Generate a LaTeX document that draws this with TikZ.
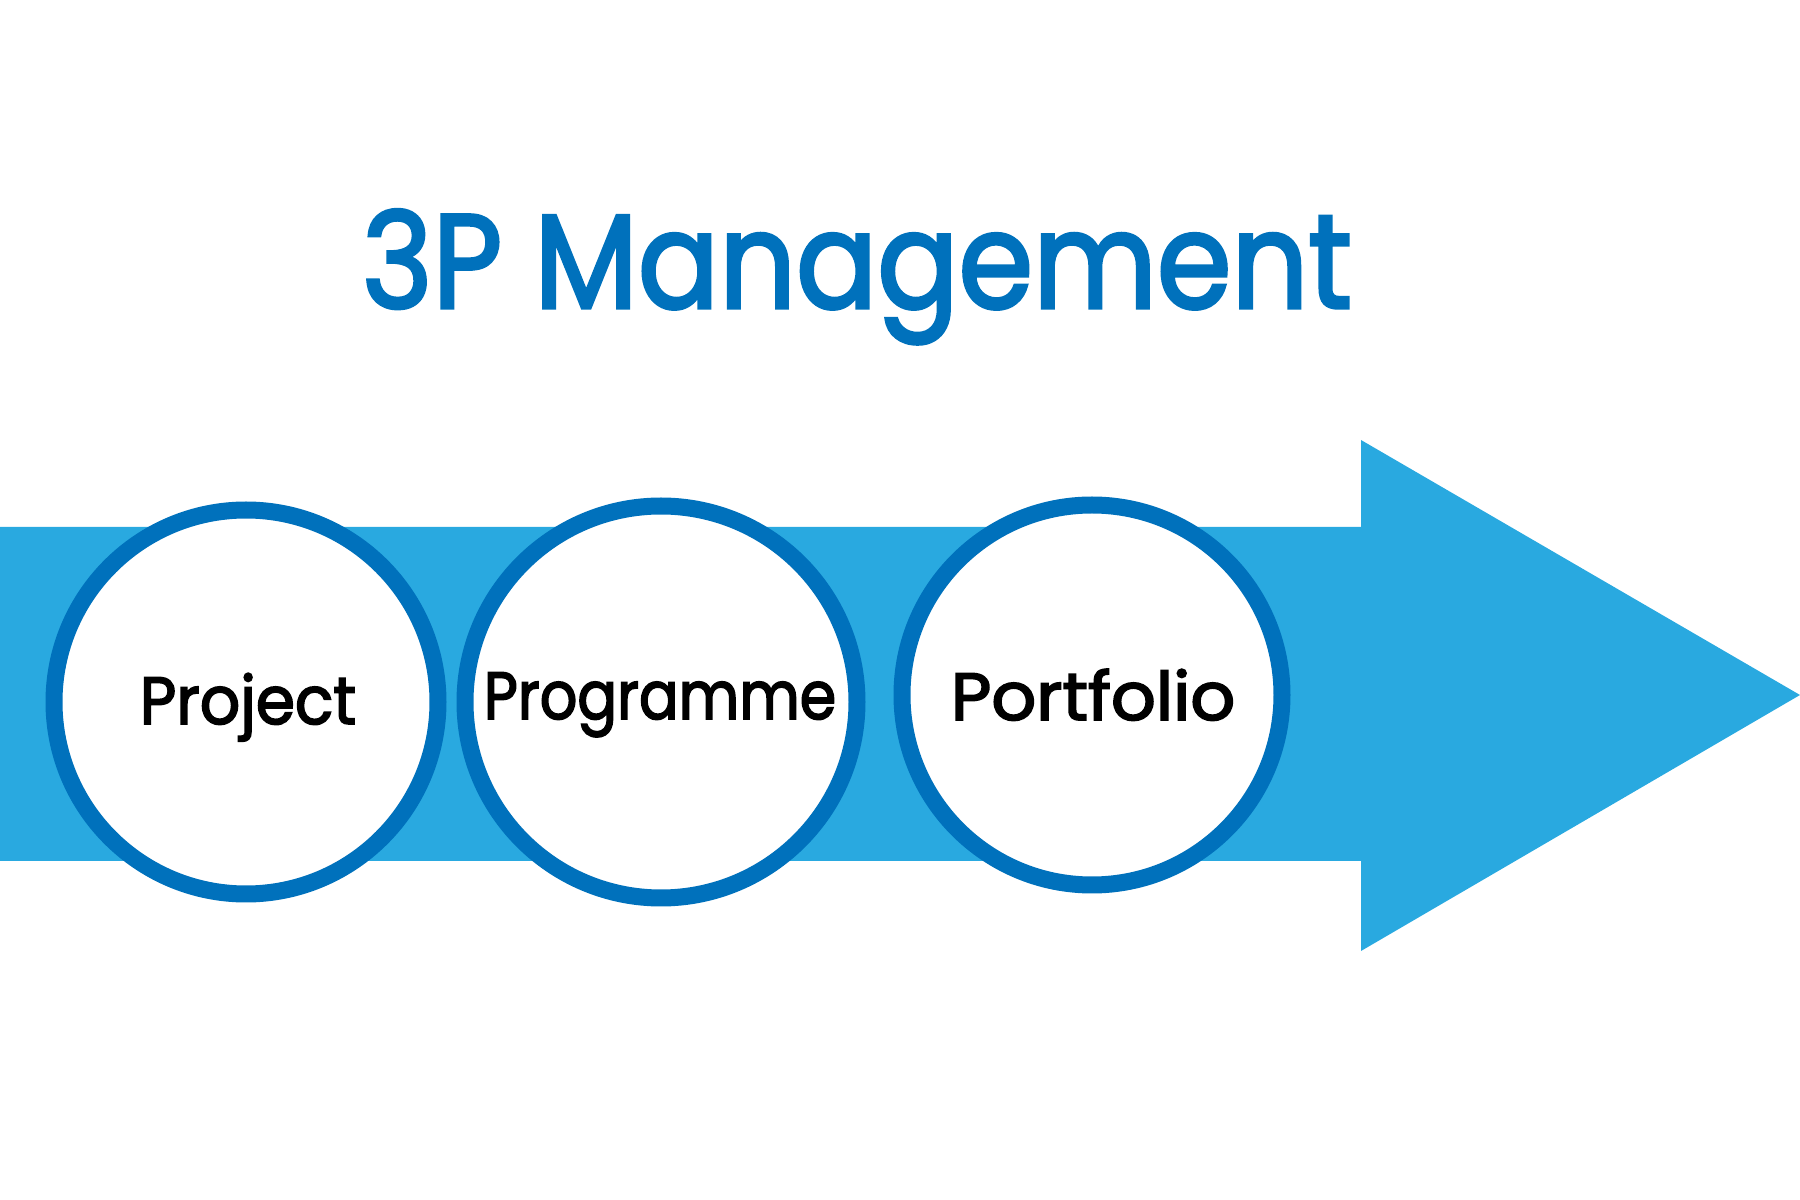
\documentclass[tikz,border=0pt]{standalone}
\usepackage{fontspec}
\setmainfont{Poppins}
\newfontfamily\labelfont{Poppins}[FakeBold=2.6]
\definecolor{lightblue}{RGB}{41,169,224}
\definecolor{darkblue}{RGB}{0,113,188}
\tikzset{
  stage/.style={circle, draw=darkblue, line width=0.17cm, fill=white, inner sep=0pt},
  stagetext/.style={anchor=base, font=\labelfont\fontsize{19}{19}\selectfont, text=black},
}
\begin{document}
\begin{tikzpicture}
\useasboundingbox (0,0) rectangle (18,12);
\fill[lightblue] (0,6.73) -- (13.61,6.73) -- (13.61,7.60) -- (18,5.05)
  -- (13.61,2.49) -- (13.61,3.39) -- (0,3.39) -- cycle;

\node[stage, minimum size=3.84cm] (proj) at (2.46,4.98) {};
\node[stage, minimum size=3.92cm] (prog) at (6.61,4.98) {};
\node[stage, minimum size=3.80cm] (port) at (10.92,5.05) {};

\node[stagetext] (projtext) at (2.48,4.76) {\scalebox{0.945}[1]{Project}};
\node[stagetext] (progtext) at (6.60,4.81) {\scalebox{0.88}[1]{Programme}};
\node[stagetext] (porttext) at (10.93,4.80) {\scalebox{1.05}[1]{Portfolio}};

\node[anchor=base, text=darkblue, font=\labelfont\fontsize{38}{38}\selectfont] (title) at (8.57,8.92) {\scalebox{0.9}[1]{3P Management}};
\end{tikzpicture}
\end{document}
